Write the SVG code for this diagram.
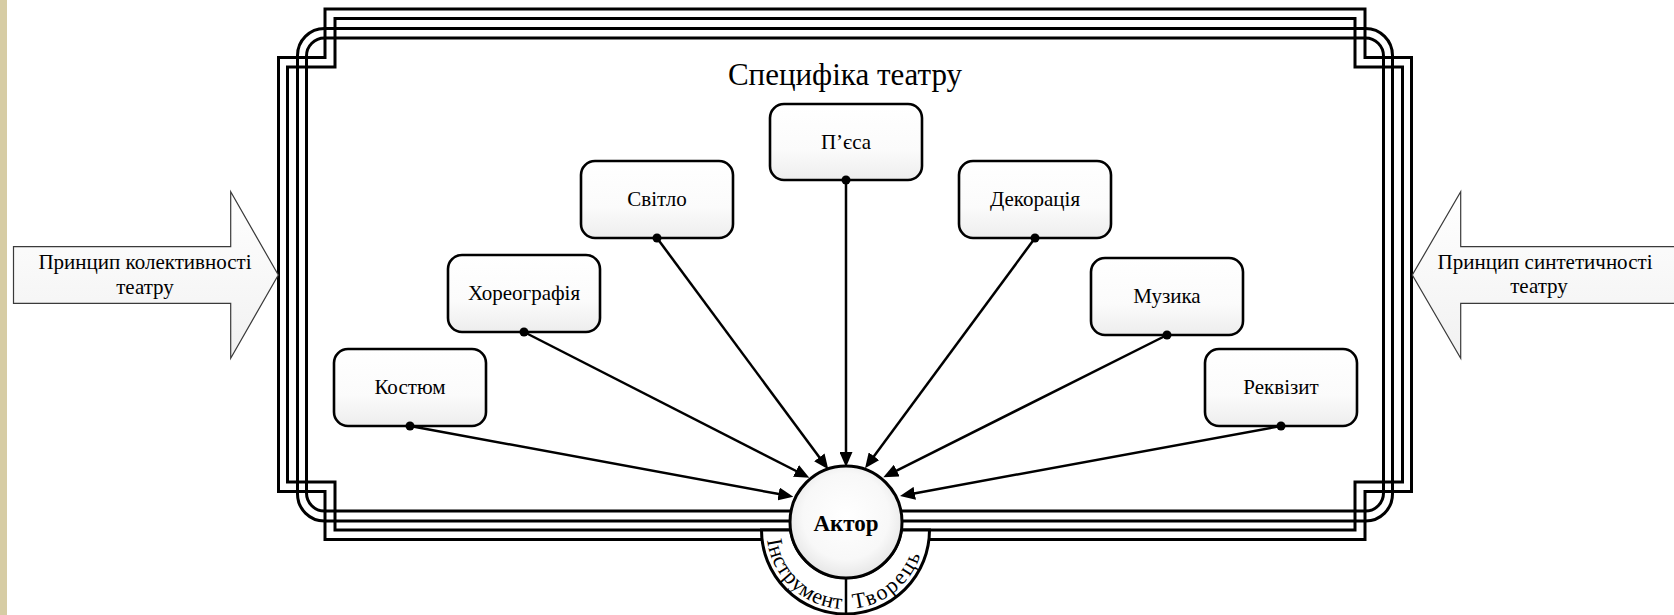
<svg xmlns="http://www.w3.org/2000/svg" width="1674" height="615" viewBox="0 0 1674 615">
<style>
.frame{fill:none;stroke:#000;stroke-width:3}
.box{fill:url(#boxg);stroke:#000;stroke-width:2.6}
.lbl{font-family:"Liberation Serif","Times New Roman",serif;font-size:21px;text-anchor:middle;fill:#000}
.conn{fill:none;stroke:#000;stroke-width:2.5;marker-end:url(#ah)}
.dot{fill:#000}
.bigarrow{fill:url(#arrg);stroke:#3a3a3a;stroke-width:1.2}
</style>
<defs>
<linearGradient id="boxg" x1="0" y1="0" x2="0" y2="1">
<stop offset="0" stop-color="#ffffff"/>
<stop offset="0.6" stop-color="#fbfbfb"/>
<stop offset="1" stop-color="#ededed"/>
</linearGradient>
<linearGradient id="arrg" x1="0" y1="0" x2="0" y2="1">
<stop offset="0" stop-color="#ffffff"/>
<stop offset="1" stop-color="#f1f1f1"/>
</linearGradient>
<radialGradient id="circg" cx="0.5" cy="0.45" r="0.55">
<stop offset="0" stop-color="#ffffff"/>
<stop offset="0.7" stop-color="#f8f8f8"/>
<stop offset="1" stop-color="#e6e6e6"/>
</radialGradient>
<marker id="ah" markerUnits="userSpaceOnUse" markerWidth="15" markerHeight="13" refX="9" refY="6.5" orient="auto">
<path d="M0,0 L15,6.5 L0,13 Z" fill="#000"/>
</marker>
<path id="ringpath" d="M766.5,530 A79,79 0 0 0 924.5,530"/>
</defs>
<rect x="0" y="0" width="1674" height="615" fill="#fff"/>
<rect x="0" y="0" width="7" height="615" fill="#d6cca4"/>

<g id="frame">
<path class="frame" d="M325,9 H1365 V57.5 H1411.5 V491.5 H1365 V539.5 H325 V491.5 H278.5 V57.5 H325 Z"/>
<path class="frame" d="M335,18.5 H1355 V67 H1402.5 V482 H1355 V530 H335 V482 H287.5 V67 H335 Z"/>
<rect class="frame" x="297.5" y="28.5" width="1095" height="492.5" rx="27" ry="27"/>
<rect class="frame" x="306.5" y="38" width="1077" height="473" rx="18" ry="18"/>
<text class="lbl" x="845" y="85" style="font-size:31px">Специфіка театру</text>
</g>

<g id="arrow-left">
<path class="bigarrow" d="M13.5,246.7 H230.7 V191.7 L278.3,275 L230.7,358.3 V303.3 H13.5 Z"/>
<text class="lbl" x="145" y="269">Принцип колективності</text>
<text class="lbl" x="145" y="293.5">театру</text>
</g>

<g id="arrow-right">
<path class="bigarrow" d="M1680,246.7 H1460.7 V191.7 L1412.3,275 L1460.7,358.3 V303.3 H1680 Z"/>
<text class="lbl" x="1545" y="268.5">Принцип синтетичності</text>
<text class="lbl" x="1539" y="293">театру</text>
</g>

<g id="node-piesa">
<rect class="box" x="770" y="104" width="152" height="76" rx="14"/>
<text class="lbl" x="846" y="149">П’єса</text>
</g>
<g id="node-svitlo">
<rect class="box" x="581" y="161" width="152" height="77" rx="14"/>
<text class="lbl" x="657" y="206">Світло</text>
</g>
<g id="node-dekoratsiia">
<rect class="box" x="959" y="161" width="152" height="77" rx="14"/>
<text class="lbl" x="1035" y="206">Декорація</text>
</g>
<g id="node-khoreohrafiia">
<rect class="box" x="448" y="255" width="152" height="77" rx="14"/>
<text class="lbl" x="524" y="300">Хореографія</text>
</g>
<g id="node-muzyka">
<rect class="box" x="1091" y="258" width="152" height="77" rx="14"/>
<text class="lbl" x="1167" y="303">Музика</text>
</g>
<g id="node-kostium">
<rect class="box" x="334" y="349" width="152" height="77" rx="14"/>
<text class="lbl" x="410" y="394">Костюм</text>
</g>
<g id="node-rekvizyt">
<rect class="box" x="1205" y="349" width="152" height="77" rx="14"/>
<text class="lbl" x="1281" y="394">Реквізит</text>
</g>

<g id="connectors">
<line class="conn" x1="410" y1="426" x2="787.4" y2="495.6"/>
<line class="conn" x1="524" y1="332" x2="804" y2="475"/>
<line class="conn" x1="657" y1="238" x2="824.7" y2="464.5"/>
<line class="conn" x1="846" y1="180" x2="846" y2="461"/>
<line class="conn" x1="1035" y1="238" x2="868.6" y2="463.5"/>
<line class="conn" x1="1167" y1="335" x2="888.7" y2="474.6"/>
<line class="conn" x1="1281" y1="426" x2="905.9" y2="494.9"/>
<circle class="dot" cx="410" cy="426" r="4.5"/>
<circle class="dot" cx="524" cy="332" r="4.5"/>
<circle class="dot" cx="657" cy="238" r="4.5"/>
<circle class="dot" cx="846" cy="180" r="4.5"/>
<circle class="dot" cx="1035" cy="238" r="4.5"/>
<circle class="dot" cx="1167" cy="335" r="4.5"/>
<circle class="dot" cx="1281" cy="426" r="4.5"/>
</g>

<g id="node-ring">
<path d="M761.5,530 A84,84 0 0 0 929.5,530 L901.4,530 A56,56 0 0 1 790.6,530 Z" fill="#fff" stroke="#000" stroke-width="3"/>
<line x1="846" y1="577" x2="846" y2="614" stroke="#000" stroke-width="2.5"/>
<text style="font-family:'Liberation Serif','Times New Roman',serif;font-size:22px;fill:#000"><textPath href="#ringpath" startOffset="10" textLength="110">Інструмент</textPath></text>
<text style="font-family:'Liberation Serif','Times New Roman',serif;font-size:22px;fill:#000"><textPath href="#ringpath" startOffset="132" textLength="90">Творець</textPath></text>
</g>

<g id="node-aktor">
<circle cx="846" cy="522" r="56" fill="url(#circg)" stroke="#000" stroke-width="3"/>
<text class="lbl" x="846" y="531" style="font-size:23px;font-weight:bold">Актор</text>
</g>
</svg>
